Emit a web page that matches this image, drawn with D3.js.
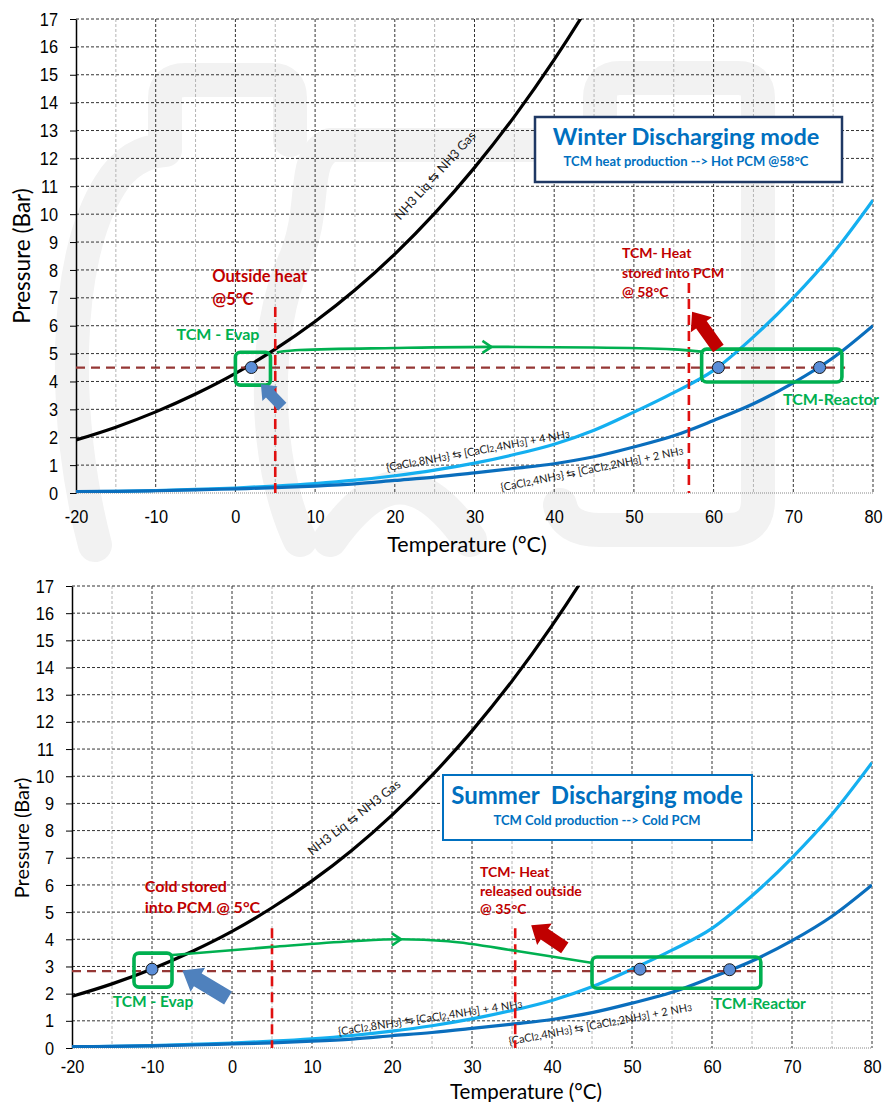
<!DOCTYPE html>
<html>
<head>
<meta charset="utf-8">
<script src="https://cdn.jsdelivr.net/npm/d3@7"></script>
<style>
  body { margin: 0; background: #fff; }
  svg { display: block; }
</style>
</head>
<body>
<div id="chart"></div>
<script>
// --- Données ---
const temps = [-20, -15, -10, -5, 0, 5, 10, 15, 20, 25, 30, 35, 40, 45, 50, 55, 60, 65, 70, 75, 80];
// NH3 liquide <-> gaz (bar)
const nh3Sat = [1.90, 2.36, 2.91, 3.55, 4.29, 5.16, 6.15, 7.28, 8.57, 10.03, 11.67, 13.5, 15.54, 17.8, 20.3, 23.1, 26.1, 29.4, 33.1, 37.1, 41.4];
// [CaCl2,8NH3] <-> [CaCl2,4NH3] + 4 NH3
const cacl8to4 = [0.04, 0.06, 0.09, 0.13, 0.18, 0.25, 0.34, 0.46, 0.62, 0.82, 1.07, 1.38, 1.75, 2.25, 2.9, 3.6, 4.4, 5.6, 7.0, 8.6, 10.5];
// [CaCl2,4NH3] <-> [CaCl2,2NH3] + 2 NH3
const cacl4to2 = [0.05, 0.06, 0.08, 0.11, 0.15, 0.19, 0.25, 0.33, 0.45, 0.57, 0.72, 0.88, 1.05, 1.3, 1.65, 2.05, 2.6, 3.2, 3.95, 4.85, 6.0];

// trajets NH3 (T °C, P bar)
const winterFlow = [[5.2, 5.05], [8, 5.13], [20, 5.2], [32, 5.24], [45, 5.22], [55, 5.15], [58.5, 5.07]];
const summerFlow = [[-7.5, 3.42], [5, 3.72], [15, 3.93], [21, 4.0], [27, 3.93], [36, 3.55], [45.1, 3.13]];

const winterPoints = [[2, 4.5], [60.6, 4.5], [73.3, 4.5]];
const summerPoints = [[-10, 2.9], [51, 2.9], [62.2, 2.88]];

const xTicks = d3.range(-20, 81, 10);
const yTicks = d3.range(0, 18, 1);

const labelNH3 = [['NH3 Liq ⇆ NH3 Gas', 0]];
const label84 = [['{CaCl', 0], ['2', 1], [',8NH', 0], ['3', 1], ['} ⇆ [CaCl', 0], ['2', 1], [',4NH', 0], ['3', 1], ['] + 4 NH', 0], ['3', 1]];
const label42 = [['{CaCl', 0], ['2', 1], [',4NH', 0], ['3', 1], ['} ⇆ [CaCl', 0], ['2', 1], [',2NH', 0], ['3', 1], ['] + 2 NH', 0], ['3', 1]];

const FONT = 'Lato, "Open Sans", sans-serif';
const NUMFONT = '"Liberation Sans", Arial, sans-serif';
const GREEN = '#00b050';
const DARKRED = '#c00000';

const panels = [
    {
        name: 'winter', left: 76, right: 873, top: 19, bottom: 493,
        xTitle: { x: 467, y: 552, size: 21.5 }, yTitle: { x: 30, y: 256, size: 22.5 },
        tickSize: 19, xLabelY: 523,
        watermark: true,
        box: { x: 535, y: 117, w: 307, h: 65, stroke: '#1f3864', sw: 2.5,
               title: 'Winter Discharging mode', tSize: 23.5, tY: 145, sub: 'TCM heat production --> Hot PCM @58°C', sSize: 13, sY: 166, cx: 686 },
        flow: winterFlow, flowArrowT: 32, points: winterPoints,
        hline: { p: 4.5, t0: -20, t1: 76.5 },
        vlines: [{ t: 5, p: 6.67 }, { t: 56.9, p: 7.53 }],
        rects: [{ t0: 0, t1: 4.4, p0: 3.87, p1: 5.05 }, { t0: 58.5, t1: 76.1, p0: 3.98, p1: 5.16 }],
        blueArrow: { from: [5.9, 3.1], to: [3.2, 3.9], w: 5.5, h: 10.5, hl: 13 },
        redArrow: { from: [60.6, 5.18], to: [57.3, 6.5], w: 6.5, h: 13, hl: 16 },
        texts: [
            { t: -2.9, p: 7.56, lines: ['Outside heat', '@5°C'], color: DARKRED, size: 16.5, lh: 23 },
            { t: -7.4, p: 5.48, lines: ['TCM - Evap'], color: GREEN, size: 16, lh: 0 },
            { t: 48.5, p: 8.42, lines: ['TCM- Heat', 'stored into PCM', '@ 58°C'], color: DARKRED, size: 14, lh: 19.5 },
            { t: 68.7, p: 3.15, lines: ['TCM-Reactor'], color: GREEN, size: 16, lh: 0 }
        ],
        curveLabels: [
            { parts: labelNH3, t: 25, p: 11.4, angle: -48, size: 12.5 },
            { parts: label84, t: 30.4, p: 1.56, angle: -10.5, size: 11 },
            { parts: label42, t: 44.7, p: 0.9, angle: -11.5, size: 11 }
        ]
    },
    {
        name: 'summer', left: 72, right: 872, top: 586, bottom: 1048,
        xTitle: { x: 526, y: 1099, size: 20.5 }, yTitle: { x: 29, y: 838, size: 20 },
        tickSize: 19, xLabelY: 1073,
        watermark: false,
        box: { x: 443, y: 775, w: 309, h: 65, stroke: '#0070c0', sw: 2,
               title: 'Summer  Discharging mode', tSize: 24, tY: 804, sub: 'TCM Cold production --> Cold PCM', sSize: 13, sY: 825, cx: 597 },
        flow: summerFlow, flowArrowT: 21, points: summerPoints,
        hline: { p: 2.83, t0: -20, t1: 65.6 },
        vlines: [{ t: 5, p: 4.41 }, { t: 35.4, p: 4.41 }],
        rects: [{ t0: -12.25, t1: -7.5, p0: 2.24, p1: 3.49 }, { t0: 45, t1: 66.1, p0: 2.2, p1: 3.35 }],
        blueArrow: { from: [-0.5, 1.84], to: [-6.2, 2.85], w: 7.5, h: 14, hl: 18 },
        redArrow: { from: [41.6, 3.68], to: [37.4, 4.52], w: 6.5, h: 13, hl: 16 },
        texts: [
            { t: -10.9, p: 5.74, lines: ['Cold stored', 'into PCM @ 5°C'], color: DARKRED, size: 16, lh: 21 },
            { t: -14.9, p: 1.51, lines: ['TCM - Evap'], color: GREEN, size: 15.5, lh: 0 },
            { t: 31, p: 6.29, lines: ['TCM- Heat', 'released outside', '@ 35°C'], color: DARKRED, size: 14, lh: 18.5 },
            { t: 60.1, p: 1.43, lines: ['TCM-Reactor'], color: GREEN, size: 15.5, lh: 0 }
        ],
        curveLabels: [
            { parts: labelNH3, t: 15.2, p: 8.5, angle: -38, size: 12.5 },
            { parts: label84, t: 24.75, p: 1.16, angle: -8.6, size: 11 },
            { parts: label42, t: 46, p: 0.92, angle: -10.7, size: 11 }
        ]
    }
];

const svg = d3.select('#chart').append('svg')
    .attr('width', 887)
    .attr('height', 1102)
    .style('background', '#fff');

function blockArrow(g, x0, y0, x1, y1, w, h, hl, color) {
    const L = Math.hypot(x1 - x0, y1 - y0);
    const a = Math.atan2(y1 - y0, x1 - x0) * 180 / Math.PI;
    const pts = [[0, -w], [L - hl, -w], [L - hl, -h], [L, 0], [L - hl, h], [L - hl, w], [0, w]];
    g.append('polygon')
        .attr('points', pts.map(p => p.join(',')).join(' '))
        .attr('transform', `translate(${x0},${y0}) rotate(${a})`)
        .attr('fill', color);
}

function drawPanel(p) {
    const x = d3.scaleLinear().domain([-20, 80]).range([p.left, p.right]);
    const y = d3.scaleLinear().domain([0, 17]).range([p.bottom, p.top]);
    const g = svg.append('g').attr('class', p.name);

    // filigrane gris clair (logo en fond)
    if (p.watermark) {
        const wm = g.append('g').attr('fill', 'none').attr('stroke', '#f2f2f2')
            .attr('stroke-width', 34).attr('stroke-linecap', 'round').attr('stroke-linejoin', 'round');
        wm.append('path').attr('d', 'M 95,545 C 62,420 62,260 110,185 Q 130,152 165,150 L 165,98 Q 165,80 185,80 L 272,80 Q 290,80 290,98 L 290,140');
        wm.append('path').attr('d', 'M 300,540 C 262,460 262,330 295,260 C 318,205 300,160 330,145 L 540,145');
        wm.append('path').attr('d', 'M 330,540 C 380,470 420,470 470,540');
        wm.append('path').attr('d', 'M 600,145 L 600,98 Q 600,78 620,78 L 738,78 Q 758,78 758,98 L 758,500 Q 758,530 728,530 L 600,530 Q 565,530 560,505');
    }

    const cid = 'clip-' + p.name;
    g.append('clipPath').attr('id', cid)
        .append('rect').attr('x', p.left).attr('y', p.top).attr('width', p.right - p.left).attr('height', p.bottom - p.top);

    // grille
    const grid = g.append('g');
    d3.range(-15, 80, 10).forEach(t => {
        grid.append('line').attr('x1', x(t)).attr('x2', x(t)).attr('y1', p.top).attr('y2', p.bottom)
            .attr('stroke', '#b4b4b4').attr('stroke-width', 1).attr('stroke-dasharray', '3,2');
    });
    d3.range(-10, 81, 10).forEach(t => {
        grid.append('line').attr('x1', x(t)).attr('x2', x(t)).attr('y1', p.top).attr('y2', p.bottom)
            .attr('stroke', '#333').attr('stroke-width', 1).attr('stroke-dasharray', '3,2');
    });
    d3.range(1, 18, 1).forEach(v => {
        grid.append('line').attr('x1', p.left).attr('x2', p.right).attr('y1', y(v)).attr('y2', y(v))
            .attr('stroke', '#333').attr('stroke-width', 1).attr('stroke-dasharray', '3,2');
    });
    grid.append('line').attr('x1', p.left).attr('x2', p.right).attr('y1', y(0)).attr('y2', y(0))
        .attr('stroke', '#888').attr('stroke-width', 1).attr('stroke-dasharray', '1,1');

    // axe Y (chiffres étroits façon Arial Narrow)
    const ya = g.append('g').attr('transform', `translate(${p.left},0)`)
        .call(d3.axisLeft(y).tickValues(yTicks).tickFormat(d => String(d)).tickSize(6).tickSizeOuter(0).tickPadding(0));
    ya.select('.domain').attr('stroke', '#000').attr('stroke-width', 1.5);
    ya.selectAll('.tick line').attr('stroke', '#000');
    ya.selectAll('.tick text').attr('x', 0).attr('transform', 'translate(-18,0) scale(0.86,1)')
        .style('font-family', NUMFONT).style('font-size', p.tickSize + 'px').attr('fill', '#000');

    // axe X
    const xa = g.append('g').attr('transform', `translate(0,${p.bottom})`)
        .call(d3.axisBottom(x).tickValues(xTicks).tickFormat(d => String(d)).tickSize(0).tickPadding(0));
    xa.select('.domain').remove();
    xa.selectAll('.tick text').attr('y', 0).attr('dy', 0)
        .attr('transform', `translate(0,${p.xLabelY - p.bottom}) scale(0.86,1)`)
        .style('font-family', NUMFONT).style('font-size', p.tickSize + 'px').attr('fill', '#000');

    g.append('text').attr('x', p.xTitle.x).attr('y', p.xTitle.y).attr('text-anchor', 'middle')
        .style('font-family', FONT).style('font-size', p.xTitle.size + 'px').text('Temperature (°C)');
    g.append('text').attr('transform', `translate(${p.yTitle.x},${p.yTitle.y}) rotate(-90)`).attr('text-anchor', 'middle')
        .style('font-family', FONT).style('font-size', p.yTitle.size + 'px').text('Pressure (Bar)');

    // courbes d'équilibre
    const line = d3.line().x(d => x(d[0])).y(d => y(d[1])).curve(d3.curveMonotoneX);
    const curves = g.append('g').attr('clip-path', `url(#${cid})`);
    [[nh3Sat, '#000'], [cacl8to4, '#14aff0'], [cacl4to2, '#0a6ebd']].forEach(([vals, col]) => {
        curves.append('path').datum(temps.map((t, i) => [t, vals[i]]))
            .attr('d', line).attr('fill', 'none').attr('stroke', col).attr('stroke-width', 3.2);
    });

    // étiquettes des courbes
    p.curveLabels.forEach(c => {
        const tx = g.append('text')
            .attr('transform', `translate(${x(c.t)},${y(c.p)}) rotate(${c.angle})`)
            .attr('text-anchor', 'middle').attr('dominant-baseline', 'central')
            .style('font-family', FONT).style('font-size', c.size + 'px').attr('fill', '#1a1a1a');
        let sub = false;
        c.parts.forEach(([s, isSub]) => {
            const ts = tx.append('tspan').text(s);
            if (isSub && !sub) { ts.attr('dy', 2).style('font-size', (c.size * 0.75) + 'px'); sub = true; }
            else if (isSub) { ts.style('font-size', (c.size * 0.75) + 'px'); }
            else if (sub) { ts.attr('dy', -2); sub = false; }
        });
    });

    // ligne de pression de travail
    g.append('line').attr('x1', x(p.hline.t0)).attr('x2', x(p.hline.t1)).attr('y1', y(p.hline.p)).attr('y2', y(p.hline.p))
        .attr('stroke', '#953735').attr('stroke-width', 2.2).attr('stroke-dasharray', '9,6');

    // verticales rouges
    p.vlines.forEach(v => {
        g.append('line').attr('x1', x(v.t)).attr('x2', x(v.t)).attr('y1', y(v.p)).attr('y2', y(0))
            .attr('stroke', '#e01010').attr('stroke-width', 2.6).attr('stroke-dasharray', '10,6');
    });

    // trajet NH3
    const flowLine = d3.line().x(d => x(d[0])).y(d => y(d[1])).curve(d3.curveMonotoneX);
    g.append('path').datum(p.flow).attr('d', flowLine)
        .attr('fill', 'none').attr('stroke', GREEN).attr('stroke-width', 2.6);
    // pointe de flèche
    const i = d3.bisector(d => d[0]).left(p.flow, p.flowArrowT);
    const a0 = p.flow[Math.max(i - 1, 0)], a1 = p.flow[i];
    const k = a1[0] === a0[0] ? 0 : (p.flowArrowT - a0[0]) / (a1[0] - a0[0]);
    const ap = [p.flowArrowT, a0[1] + k * (a1[1] - a0[1])];
    g.append('path').attr('d', 'M -8,-6 L 1,0 L -8,6')
        .attr('transform', `translate(${x(ap[0])},${y(ap[1])})`)
        .attr('fill', 'none').attr('stroke', GREEN).attr('stroke-width', 2.6);

    // cadres verts
    p.rects.forEach(r => {
        g.append('rect').attr('x', x(r.t0)).attr('y', y(r.p1)).attr('width', x(r.t1) - x(r.t0)).attr('height', y(r.p0) - y(r.p1))
            .attr('rx', 5).attr('fill', 'none').attr('stroke', GREEN).attr('stroke-width', 3.6);
    });

    // points de fonctionnement
    g.selectAll('circle.pt').data(p.points).join('circle').attr('class', 'pt')
        .attr('cx', d => x(d[0])).attr('cy', d => y(d[1])).attr('r', 6)
        .attr('fill', '#5b8ed8').attr('stroke', '#1a1a1a').attr('stroke-width', 1);

    // flèches pleines
    const ba = p.blueArrow, ra = p.redArrow;
    blockArrow(g, x(ba.from[0]), y(ba.from[1]), x(ba.to[0]), y(ba.to[1]), ba.w, ba.h, ba.hl, '#4f81bd');
    blockArrow(g, x(ra.from[0]), y(ra.from[1]), x(ra.to[0]), y(ra.to[1]), ra.w, ra.h, ra.hl, '#c00000');

    // annotations
    p.texts.forEach(tt => {
        const tx = g.append('text').attr('x', x(tt.t)).attr('y', y(tt.p))
            .style('font-family', FONT).style('font-weight', 700).style('font-size', tt.size + 'px').attr('fill', tt.color);
        tt.lines.forEach((l, j) => tx.append('tspan').attr('x', x(tt.t)).attr('dy', j ? tt.lh : 0).text(l));
    });

    // encadré titre
    const b = p.box;
    g.append('rect').attr('x', b.x).attr('y', b.y).attr('width', b.w).attr('height', b.h)
        .attr('fill', '#fff').attr('stroke', b.stroke).attr('stroke-width', b.sw);
    g.append('text').attr('x', b.cx).attr('y', b.tY).attr('text-anchor', 'middle').style('white-space', 'pre')
        .style('font-family', FONT).style('font-weight', 700).style('font-size', b.tSize + 'px').attr('fill', '#0070c0').text(b.title);
    g.append('text').attr('x', b.cx).attr('y', b.sY).attr('text-anchor', 'middle')
        .style('font-family', FONT).style('font-weight', 700).style('font-size', b.sSize + 'px').attr('fill', '#0070c0').text(b.sub);
}

panels.forEach(drawPanel);
</script>
</body>
</html>
